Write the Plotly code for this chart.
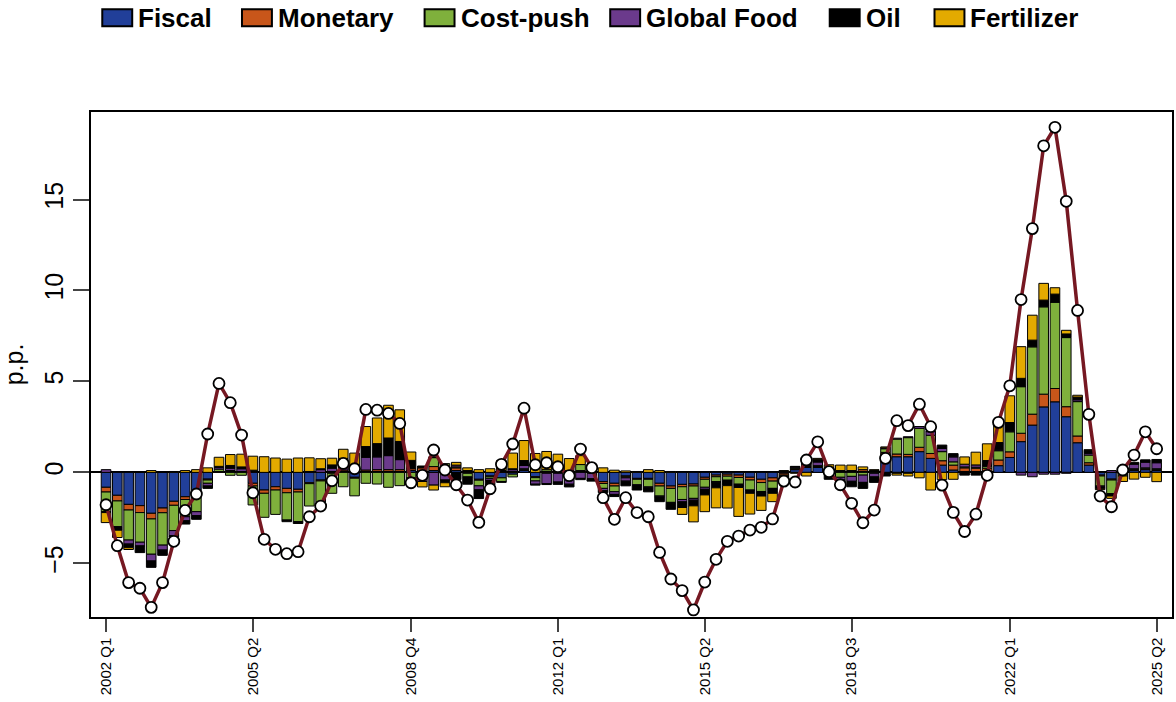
import plotly.graph_objects as go

# Quarterly sample 2002 Q1 - 2025 Q2
quarters = [f"{y} Q{q}" for y in range(2002, 2026) for q in range(1, 5)][:94]

tick_labels = ["2002 Q1", "2005 Q2", "2008 Q4", "2012 Q1",
               "2015 Q2", "2018 Q3", "2022 Q1", "2025 Q2"]

# Historical decomposition (percentage-point contributions)
fiscal = [
    -0.82, -1.26, -1.76, -1.83, -2.25, -1.96, -1.59, -1.34, -1.06, -0.37,
    0.00, 0.05, 0.00, -0.60, -0.97, -0.79, -0.88, -0.93, -0.57, -0.42,
    -0.05, 0.05, -0.27, 0.05, 0.05, 0.05, 0.05, 0.10, 0.05, 0.10,
    0.05, 0.10, -0.05, -0.38, -0.20, -0.30, -0.10, 0.10, -0.24, -0.05,
    -0.05, -0.05, 0.05, -0.05, -0.51, -0.60, -0.20, -0.33, -0.33, -0.60,
    -0.75, -0.66, -0.64, -0.27, -0.15, -0.10, -0.15, -0.27, -0.38, -0.30,
    -0.05, 0.15, 0.27, 0.27, 0.05, 0.05, 0.05, 0.05, 0.05, 1.00,
    0.86, 0.86, 1.14, 0.77, 0.40, 0.13, 0.05, 0.05, 0.05, 0.37,
    0.82, 1.69, 2.60, 3.60, 3.88, 3.06, 1.63, 0.40, -0.15, -0.37,
    0.10, 0.10, 0.15, 0.10,
]
monetary = [
    -0.26, -0.31, -0.31, -0.38, -0.31, -0.26, -0.22, -0.15, -0.10, -0.05,
    0.05, 0.05, 0.05, -0.15, -0.18, -0.18, -0.24, -0.15, -0.05, -0.05,
    0.05, 0.08, -0.05, 0.08, 0.10, 0.10, 0.10, 0.10, 0.20, 0.22,
    0.10, 0.15, 0.05, -0.05, -0.05, 0.05, 0.05, 0.05, -0.05, 0.05,
    0.00, 0.00, 0.05, 0.10, -0.10, -0.15, -0.05, -0.05, -0.05, -0.15,
    -0.13, -0.13, -0.11, -0.11, -0.09, -0.11, -0.13, -0.15, -0.18, -0.18,
    -0.10, 0.05, 0.05, 0.05, 0.05, 0.05, 0.05, 0.10, 0.05, 0.10,
    0.15, 0.13, 0.24, 0.27, 0.24, 0.27, 0.20, 0.18, 0.18, 0.31,
    0.31, 0.46, 0.60, 0.70, 0.73, 0.55, 0.37, 0.13, -0.05, -0.05,
    0.05, 0.05, 0.05, 0.05,
]
cost_push = [
    -1.08, -1.41, -1.65, -1.63, -1.94, -1.78, -1.39, -0.95, -1.00, -0.18,
    0.13, -0.16, -0.16, -1.04, -1.32, -1.34, -1.50, -1.63, -1.23, -1.19,
    -1.10, -0.79, -0.97, -0.60, -0.64, -0.82, -0.73, -0.30, -0.10, 0.49,
    0.33, 0.05, -0.20, -0.31, -0.10, -0.20, -0.15, 0.05, -0.18, 0.10,
    0.05, 0.10, 0.33, 0.05, -0.27, -0.31, -0.05, -0.30, -0.42, -0.55,
    -0.77, -0.70, -0.68, -0.44, -0.27, -0.22, -0.37, -0.55, -0.49, -0.40,
    -0.05, 0.05, 0.05, 0.05, -0.05, -0.27, -0.22, -0.15, -0.05, 0.20,
    0.82, 0.92, 1.04, 1.00, 0.50, 0.18, 0.05, 0.05, 0.10, 0.51,
    1.10, 2.56, 3.70, 4.80, 4.74, 3.80, 1.89, 0.42, -0.55, -0.75,
    -0.20, 0.05, 0.05, 0.05,
]
global_food = [
    0.15, -0.05, -0.22, -0.20, -0.37, -0.27, -0.27, -0.22, -0.22, -0.15,
    0.10, 0.13, 0.15, 0.05, 0.00, 0.00, 0.00, 0.00, 0.05, 0.15,
    0.18, 0.37, 0.30, 0.70, 0.70, 0.77, 0.55, -0.10, -0.40, -0.70,
    -0.42, 0.10, 0.05, -0.22, -0.10, 0.05, 0.10, 0.18, -0.18, -0.57,
    -0.48, -0.60, -0.33, -0.30, -0.13, -0.15, -0.18, -0.05, -0.05, -0.05,
    -0.05, -0.13, -0.10, -0.11, -0.03, -0.03, -0.03, -0.03, -0.03, -0.03,
    0.05, 0.05, 0.08, 0.20, 0.05, -0.15, -0.27, -0.40, -0.20, 0.05,
    0.05, 0.05, 0.10, 0.20, 0.18, 0.27, 0.15, 0.13, 0.05, 0.05,
    0.05, -0.15, -0.24, -0.10, -0.10, -0.05, 0.10, 0.10, -0.05, 0.10,
    0.10, 0.25, 0.31, 0.33,
]
oil = [
    -0.05, -0.15, -0.20, -0.37, -0.35, -0.29, -0.10, -0.18, -0.20, -0.13,
    0.05, 0.15, 0.10, 0.07, 0.00, 0.00, -0.09, -0.10, 0.00, 0.05,
    0.18, 0.27, 0.10, 0.59, 0.73, 0.97, 1.00, 0.46, 0.10, 0.05,
    -0.15, -0.40, -0.40, -0.48, -0.24, -0.05, 0.05, 0.27, -0.05, -0.05,
    -0.13, -0.15, -0.07, -0.13, -0.10, -0.12, -0.26, -0.24, -0.22, -0.26,
    -0.33, -0.31, -0.31, -0.31, -0.31, -0.27, -0.15, -0.15, -0.22, -0.24,
    -0.15, 0.03, 0.08, 0.15, -0.33, -0.45, -0.30, -0.33, -0.30, -0.20,
    -0.05, -0.05, 0.00, 0.05, 0.18, 0.18, -0.15, -0.15, 0.27, 0.40,
    0.46, 0.46, 0.37, 0.37, 0.45, 0.20, 0.15, 0.15, -0.10, -0.13,
    0.03, 0.10, 0.13, 0.18,
]
fertilizer = [
    -0.55, -0.40, -0.10, 0.00, 0.10, 0.00, 0.05, 0.10, 0.15, 0.25,
    0.50, 0.60, 0.70, 0.77, 0.86, 0.79, 0.73, 0.79, 0.75, 0.55,
    0.37, 0.50, 0.66, 1.10, 1.41, 1.80, 1.74, 0.46, -0.30, -0.27,
    -0.22, 0.15, 0.15, 0.15, 0.20, 0.55, 0.86, 1.10, 1.04, 1.00,
    0.95, 0.66, 0.49, 0.25, 0.25, 0.12, 0.08, 0.05, 0.15, 0.10,
    0.05, -0.38, -0.88, -0.92, -1.10, -1.23, -1.59, -1.14, -0.79, -0.46,
    0.05, -0.05, -0.20, 0.05, 0.27, 0.30, 0.30, 0.15, 0.05, 0.05,
    -0.10, -0.15, -0.30, -0.97, -0.40, -0.38, 0.40, 0.70, 0.92, 1.00,
    1.47, 1.74, 1.37, 0.92, 0.35, 0.20, 0.10, 0.05, -0.05, -0.13,
    -0.30, -0.37, -0.27, -0.51,
]
# Observed series (deviation, p.p.)
observed = [
    -1.78, -4.03, -6.06, -6.37, -7.42, -6.06, -3.79, -2.09, -1.19, 2.11,
    4.89, 3.83, 2.05, -1.12, -3.68, -4.23, -4.47, -4.36, -2.44, -1.85,
    -0.46, 0.49, 0.20, 3.46, 3.42, 3.24, 2.69, -0.57, -0.16, 1.23,
    0.13, -0.68, -1.52, -2.75, -0.90, 0.44, 1.56, 3.53, 0.42, 0.53,
    0.31, -0.18, 1.28, 0.26, -1.39, -2.58, -1.39, -2.21, -2.44, -4.40,
    -5.86, -6.50, -7.56, -6.03, -4.78, -3.79, -3.50, -3.17, -3.02, -2.56,
    -0.48, -0.53, 0.68, 1.68, 0.04, -0.68, -1.70, -2.77, -2.07, 0.77,
    2.84, 2.57, 3.75, 2.51, -0.70, -2.20, -3.25, -2.30, -0.16, 2.75,
    4.76, 9.50, 13.40, 17.95, 18.97, 14.90, 8.90, 3.19, -1.30, -1.89,
    0.13, 0.95, 2.23, 1.30,
]

components = [
    ("Fiscal", fiscal, "#213f99"),
    ("Monetary", monetary, "#c8561a"),
    ("Cost-push", cost_push, "#7fb03c"),
    ("Global Food", global_food, "#6b3a8c"),
    ("Oil", oil, "#000000"),
    ("Fertilizer", fertilizer, "#e3aa00"),
]

FONT = "Liberation Sans, Arial, Helvetica, sans-serif"

fig = go.Figure()
for name, vals, col in components:
    fig.add_trace(go.Bar(
        x=quarters, y=vals, name=name, showlegend=False,
        marker=dict(color=col, line=dict(color="black", width=1)),
    ))

fig.add_trace(go.Scatter(
    x=quarters, y=observed, mode="lines+markers", showlegend=False,
    line=dict(color="#761822", width=3.5),
    marker=dict(size=11, color="white", line=dict(color="black", width=1.8)),
))

# Horizontal legend across the top: filled boxes with bold labels
W_PLOT, H_PLOT, L, T = 1083.3, 505.3, 90.7, 111.7
def px_x(px):
    return (px - L) / W_PLOT
def px_y(py):
    return (T + H_PLOT - py) / H_PLOT

legend_x = [102, 242, 425, 611, 831, 936]
for (name, _, col), x0 in zip(components, legend_x):
    fig.add_shape(type="rect", xref="paper", yref="paper",
                  x0=px_x(x0), x1=px_x(x0 + 30), y0=px_y(26), y1=px_y(9),
                  fillcolor=col, line=dict(color="black", width=2))
    fig.add_annotation(xref="paper", yref="paper", x=px_x(x0 + 34), y=px_y(17.5),
                       text=f"<b>{name}</b>", showarrow=False,
                       xanchor="left", yanchor="middle",
                       font=dict(family=FONT, size=26, color="black"))

fig.update_layout(
    width=1176, height=702,
    margin=dict(l=91, r=2, t=112, b=85),
    barmode="relative", bargap=0.15,
    plot_bgcolor="white", paper_bgcolor="white",
    font=dict(family=FONT, color="black"),
)
fig.update_xaxes(
    range=[-1.33, 94.36], tickmode="array", tickvals=tick_labels, ticktext=tick_labels,
    tickangle=-90, tickfont=dict(size=15), ticks="outside", ticklen=13, tickwidth=1.5,
    showline=True, linecolor="black", linewidth=1.5, mirror=True, showgrid=False,
)
fig.update_yaxes(
    range=[-7.95, 19.81], tickvals=[-5, 0, 5, 10, 15], tickangle=-90,
    tickfont=dict(size=25), ticks="outside", ticklen=16, tickwidth=1.5,
    showline=True, linecolor="black", linewidth=1.5, mirror=True, showgrid=False,
    zeroline=True, zerolinecolor="black", zerolinewidth=1.5,
    title=dict(text="p.p.", font=dict(size=25), standoff=14),
)

fig.write_html("out.html")
